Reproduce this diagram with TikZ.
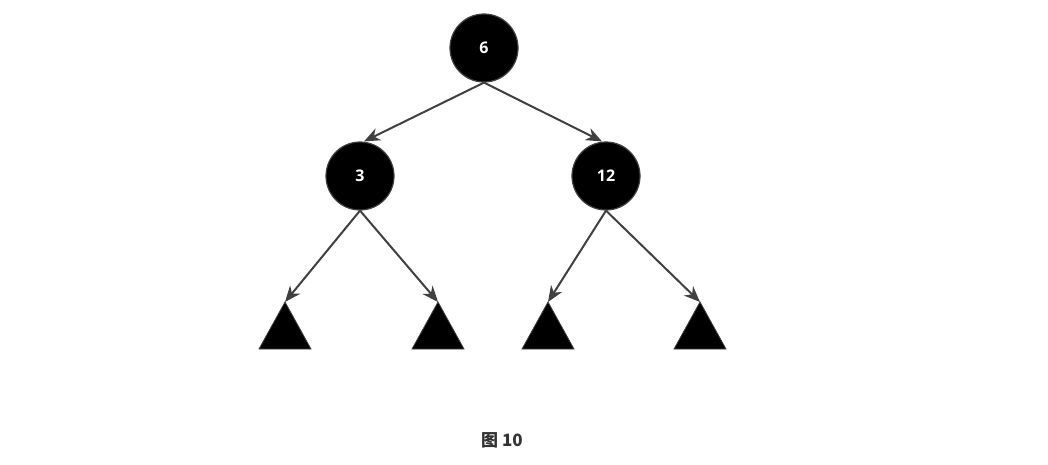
\documentclass[tikz,border=0pt]{standalone}
\usepackage{fontspec}
\setsansfont{Open Sans}
\newfontfamily\cjk{Noto Sans CJK SC}
\usetikzlibrary{arrows.meta}
\definecolor{edgegray}{HTML}{404040}
\definecolor{captext}{HTML}{333333}
\begin{document}
\begin{tikzpicture}[x=1pt,y=-1pt,
  treenode/.style={circle,fill=black,draw=edgegray,line width=1.2pt,
    minimum size=68pt,inner sep=0pt,text=white,
    font=\sffamily\bfseries\fontsize{16}{18}\selectfont},
  link/.style={draw=edgegray,line width=2pt,
    -{Stealth[length=16pt,width=13pt,inset=5pt]}},
  leaf/.style={fill=black,draw=edgegray,line width=0.8pt}]
\useasboundingbox (0,0) rectangle (1048,464);

% tree nodes
\node[treenode] (n6)  at (484,48)  {6};
\node[treenode] (n3)  at (360,176) {3};
\node[treenode] (n12) at (606,176) {12};

% subtree triangles, apex coordinates
\coordinate (t1) at (285,302);
\coordinate (t2) at (438,302);
\coordinate (t3) at (548,302);
\coordinate (t4) at (700,302);
\foreach \t in {t1,t2,t3,t4}
  \path[leaf] (\t) -- ++(26,47) -- ++(-52,0) -- cycle;

% links
\draw[link] (n6.south) -- ([xshift=4pt]n3.north);
\draw[link] (n6.south) -- ([xshift=-4pt]n12.north);
\draw[link] (n3.south) -- (t1);
\draw[link] (n3.south) -- (t2);
\draw[link] (n12.south) -- (t3);
\draw[link] (n12.south) -- (t4);

% caption
\node[font=\cjk\bfseries\fontsize{17}{20}\selectfont,text=captext] (cap) at (502,440) {图 10};
\end{tikzpicture}
\end{document}
